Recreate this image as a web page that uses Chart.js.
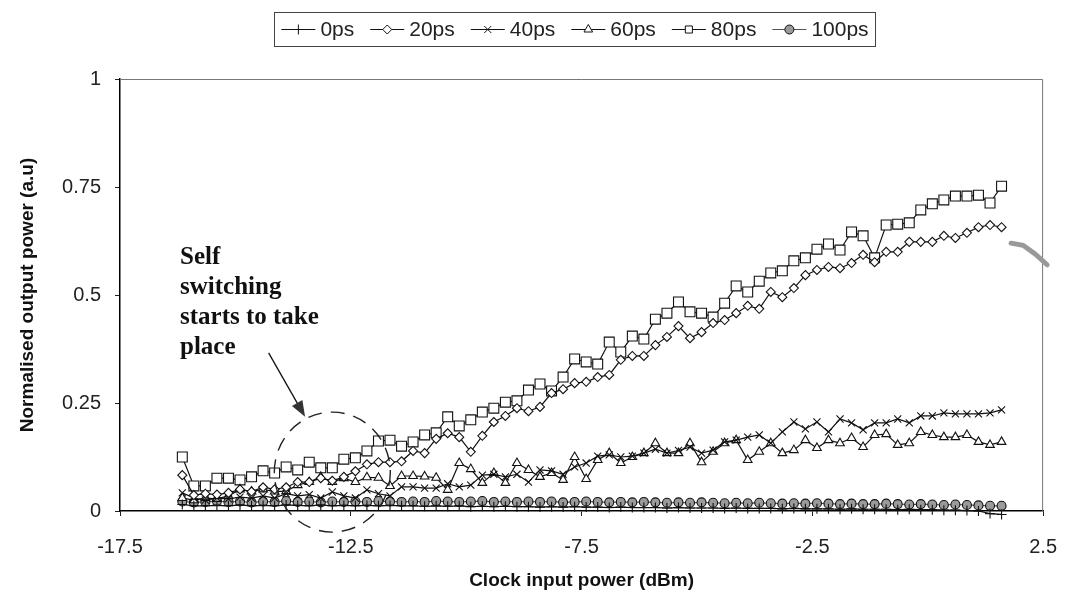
<!DOCTYPE html>
<html>
<head>
<meta charset="utf-8">
<script src="https://cdn.jsdelivr.net/npm/chart.js"></script>
<style>
  html, body { margin: 0; padding: 0; background: #fff; }
</style>
</head>
<body>
<canvas id="chart" width="1076" height="610"></canvas>
<script>
// clock input power (dBm), one entry per measured point
const clockPower = [
  -16.15, -15.9, -15.65, -15.4, -15.15, -14.9, -14.65, -14.4, -14.15, -13.9,
  -13.65, -13.4, -13.15, -12.9, -12.65, -12.4, -12.15, -11.9, -11.65, -11.4,
  -11.15, -10.9, -10.65, -10.4, -10.15, -9.9, -9.65, -9.4, -9.15, -8.9,
  -8.65, -8.4, -8.15, -7.9, -7.65, -7.4, -7.15, -6.9, -6.65, -6.4,
  -6.15, -5.9, -5.65, -5.4, -5.15, -4.9, -4.65, -4.4, -4.15, -3.9,
  -3.65, -3.4, -3.15, -2.9, -2.65, -2.4, -2.15, -1.9, -1.65, -1.4,
  -1.15, -0.9, -0.65, -0.4, -0.15, 0.1, 0.35, 0.6, 0.85, 1.1,
  1.35, 1.6
];

// normalised output power per delay
const out0ps = [
  0.015, 0.012, 0.012, 0.013, 0.012, 0.014, 0.012, 0.013, 0.012, 0.014,
  0.013, 0.012, 0.014, 0.012, 0.013, 0.012, 0.013, 0.012, 0.013, 0.012,
  0.012, 0.011, 0.012, 0.011, 0.012, 0.010, 0.011, 0.010, 0.011, 0.010,
  0.010, 0.009, 0.010, 0.009, 0.010, 0.009, 0.009, 0.008, 0.009, 0.008,
  0.008, 0.008, 0.007, 0.008, 0.007, 0.007, 0.007, 0.006, 0.007, 0.006,
  0.006, 0.006, 0.005, 0.006, 0.005, 0.005, 0.005, 0.004, 0.005, 0.004,
  0.004, 0.004, 0.003, 0.004, 0.003, 0.003, 0.002, 0.002, 0.001, 0.000,
  -0.006, -0.008
];
const out20ps = [
  0.083, 0.037, 0.040, 0.038, 0.042, 0.050, 0.045, 0.055, 0.050, 0.055,
  0.067, 0.067, 0.076, 0.070, 0.079, 0.092, 0.108, 0.113, 0.113, 0.115,
  0.139, 0.134, 0.167, 0.180, 0.171, 0.137, 0.174, 0.206, 0.220, 0.238,
  0.231, 0.241, 0.273, 0.282, 0.296, 0.299, 0.310, 0.315, 0.350, 0.359,
  0.359, 0.384, 0.403, 0.428, 0.400, 0.414, 0.435, 0.442, 0.458, 0.475,
  0.468, 0.507, 0.495, 0.516, 0.546, 0.558, 0.565, 0.562, 0.574, 0.593,
  0.576, 0.600, 0.600, 0.623, 0.623, 0.623, 0.637, 0.632, 0.644, 0.657,
  0.662, 0.657
];
const out40ps = [
  0.042, 0.030, 0.025, 0.030, 0.028, 0.032, 0.030, 0.035, 0.030, 0.040,
  0.035, 0.038, 0.030, 0.044, 0.035, 0.030, 0.049, 0.040, 0.035, 0.056,
  0.056, 0.053, 0.053, 0.063, 0.056, 0.060, 0.083, 0.085, 0.079, 0.085,
  0.067, 0.095, 0.093, 0.085, 0.102, 0.111, 0.127, 0.130, 0.125, 0.127,
  0.134, 0.143, 0.134, 0.140, 0.148, 0.134, 0.141, 0.160, 0.164, 0.171,
  0.176, 0.157, 0.183, 0.206, 0.190, 0.206, 0.183, 0.213, 0.204, 0.188,
  0.204, 0.204, 0.213, 0.204, 0.220, 0.220, 0.227, 0.225, 0.225, 0.225,
  0.227, 0.234
];
const out60ps = [
  0.030, 0.025, 0.030, 0.028, 0.035, 0.050, 0.045, 0.050, 0.045, 0.046,
  0.060, 0.067, 0.079, 0.067, 0.076, 0.067, 0.078, 0.077, 0.058, 0.081,
  0.081, 0.080, 0.077, 0.049, 0.111, 0.097, 0.065, 0.088, 0.065, 0.111,
  0.095, 0.079, 0.088, 0.072, 0.125, 0.074, 0.118, 0.134, 0.111, 0.125,
  0.134, 0.157, 0.134, 0.134, 0.157, 0.113, 0.137, 0.157, 0.164, 0.118,
  0.137, 0.157, 0.134, 0.141, 0.164, 0.146, 0.164, 0.157, 0.169, 0.148,
  0.176, 0.178, 0.153, 0.157, 0.183, 0.176, 0.171, 0.171, 0.176, 0.160,
  0.153, 0.160
];
const out80ps = [
  0.125, 0.058, 0.058, 0.076, 0.076, 0.072, 0.079, 0.093, 0.088, 0.102,
  0.095, 0.113, 0.100, 0.100, 0.120, 0.123, 0.139, 0.162, 0.164, 0.150,
  0.160, 0.176, 0.181, 0.218, 0.197, 0.211, 0.229, 0.238, 0.252, 0.255,
  0.280, 0.294, 0.278, 0.310, 0.352, 0.345, 0.340, 0.391, 0.368, 0.405,
  0.398, 0.444, 0.458, 0.484, 0.461, 0.458, 0.449, 0.481, 0.521, 0.507,
  0.532, 0.551, 0.556, 0.579, 0.586, 0.606, 0.618, 0.604, 0.646, 0.637,
  0.586, 0.662, 0.664, 0.667, 0.697, 0.711, 0.720, 0.729, 0.729, 0.731,
  0.713, 0.752
];
const out100ps = [
  0.022, 0.020, 0.021, 0.023, 0.021, 0.022, 0.020, 0.022, 0.021, 0.023,
  0.021, 0.022, 0.020, 0.022, 0.021, 0.022, 0.021, 0.023, 0.022, 0.021,
  0.022, 0.021, 0.023, 0.022, 0.021, 0.022, 0.023, 0.021, 0.022, 0.021,
  0.022, 0.021, 0.022, 0.020, 0.021, 0.022, 0.021, 0.020, 0.021, 0.020,
  0.021, 0.020, 0.019, 0.020, 0.019, 0.020, 0.019, 0.018, 0.019, 0.018,
  0.019, 0.018, 0.017, 0.018, 0.017, 0.018, 0.017, 0.016, 0.017, 0.016,
  0.016, 0.017, 0.016, 0.015, 0.016, 0.015, 0.014, 0.015, 0.014, 0.013,
  0.012, 0.012
];

const seriesNames = ["0ps", "20ps", "40ps", "60ps", "80ps", "100ps"];
const xTicks = [-17.5, -12.5, -7.5, -2.5, 2.5];
const yTicks = [0, 0.25, 0.5, 0.75, 1];
const noteLines = ["Self", "switching", "starts to take", "place"];

const sans = "'Liberation Sans', Arial, sans-serif";
const serif = "'Liberation Serif', 'Times New Roman', serif";

const toPoints = (ys) => ys.map((y, i) => ({ x: clockPower[i], y: y }));

const makeSet = (label, ys, style, radius, fill, line) => ({
    label: label,
    data: toPoints(ys),
    borderColor: line || "#111",
    borderWidth: 1.2,
    pointStyle: style,
    pointRadius: radius,
    pointHoverRadius: radius,
    pointBorderColor: "#111",
    pointBorderWidth: 1.1,
    pointBackgroundColor: fill,
    tension: 0,
    clip: 10
});

const datasets = [
    makeSet(seriesNames[0], out0ps, "cross", 5, "#111"),
    makeSet(seriesNames[1], out20ps, "rectRot", 4.5, "#fff"),
    makeSet(seriesNames[2], out40ps, "crossRot", 5, "#111"),
    makeSet(seriesNames[3], out60ps, "triangle", 5, "#fff"),
    makeSet(seriesNames[4], out80ps, "rect", 7, "#fff"),
    makeSet(seriesNames[5], out100ps, "circle", 4.5, "#9a9a9a", "#555")
];

// boxed legend with line + marker like the original
const boxLegend = {
    id: "boxLegend",
    afterDraw(chart) {
        const ctx = chart.ctx;
        const font = "21px " + sans;
        ctx.save();
        ctx.font = font;
        const seg = 34, gapText = 5, gapItem = 16, pad = 7;
        let total = pad * 2;
        chart.data.datasets.forEach((ds, i) => {
            total += seg + gapText + ctx.measureText(ds.label).width;
            if (i < chart.data.datasets.length - 1) total += gapItem;
        });
        const cx = 575, top = 12, h = 34;
        let x = cx - total / 2;
        ctx.strokeStyle = "#444";
        ctx.lineWidth = 1;
        ctx.strokeRect(Math.round(x) + 0.5, top + 0.5, Math.round(total), h);
        x += pad;
        const midY = top + h / 2 + 0.5;
        chart.data.datasets.forEach((ds) => {
            ctx.strokeStyle = ds.borderColor;
            ctx.lineWidth = 1;
            ctx.beginPath();
            ctx.moveTo(x, midY);
            ctx.lineTo(x + seg, midY);
            ctx.stroke();
            ctx.fillStyle = ds.pointBackgroundColor;
            ctx.strokeStyle = ds.pointBorderColor;
            Chart.helpers.drawPoint(ctx, {
                pointStyle: ds.pointStyle,
                radius: Math.min(ds.pointRadius, 5),
                rotation: 0,
                borderWidth: 1
            }, x + seg / 2, midY);
            x += seg + gapText;
            ctx.fillStyle = "#222";
            ctx.textBaseline = "middle";
            ctx.textAlign = "left";
            ctx.font = font;
            ctx.fillText(ds.label, x, midY + 1);
            x += ctx.measureText(ds.label).width + gapItem;
        });
        ctx.restore();
    }
};

// frame on top/right of plot, plus the hand-drawn note
const frameAndNote = {
    id: "frameAndNote",
    afterDatasetsDraw(chart) {
        const ctx = chart.ctx;
        const a = chart.chartArea;
        const xs = chart.scales.x, ys = chart.scales.y;
        ctx.save();
        ctx.strokeStyle = "#777";
        ctx.lineWidth = 1;
        ctx.beginPath();
        ctx.moveTo(a.left, a.top + 0.5);
        ctx.lineTo(a.right - 0.5, a.top + 0.5);
        ctx.lineTo(a.right - 0.5, a.bottom);
        ctx.stroke();

        // text
        ctx.fillStyle = "#111";
        ctx.font = "bold 25px " + serif;
        ctx.textAlign = "left";
        ctx.textBaseline = "alphabetic";
        const tx = xs.getPixelForValue(-16.2);
        const ty = ys.getPixelForValue(0.572);
        noteLines.forEach((t, i) => ctx.fillText(t, tx, ty + i * 30));

        // arrow
        const x1 = xs.getPixelForValue(-14.28), y1 = ys.getPixelForValue(0.366);
        const x2 = xs.getPixelForValue(-13.49), y2 = ys.getPixelForValue(0.218);
        const ang = Math.atan2(y2 - y1, x2 - x1);
        ctx.strokeStyle = "#111";
        ctx.lineWidth = 1.3;
        ctx.beginPath();
        ctx.moveTo(x1, y1);
        ctx.lineTo(x2 - 10 * Math.cos(ang), y2 - 10 * Math.sin(ang));
        ctx.stroke();
        ctx.beginPath();
        ctx.moveTo(x2, y2);
        ctx.lineTo(x2 - 16 * Math.cos(ang) + 6 * Math.sin(ang), y2 - 16 * Math.sin(ang) - 6 * Math.cos(ang));
        ctx.lineTo(x2 - 16 * Math.cos(ang) - 6 * Math.sin(ang), y2 - 16 * Math.sin(ang) + 6 * Math.cos(ang));
        ctx.closePath();
        ctx.fillStyle = "#333";
        ctx.fill();

        // dashed circle
        const cx = xs.getPixelForValue(-12.9), cy = ys.getPixelForValue(0.09);
        ctx.setLineDash([14, 9]);
        ctx.lineWidth = 1.4;
        ctx.strokeStyle = "#222";
        ctx.beginPath();
        ctx.ellipse(cx, cy, 58, 60, 0, 0, Math.PI * 2);
        ctx.stroke();
        ctx.setLineDash([]);

        // grey scan smudge on the right edge
        ctx.strokeStyle = "#999";
        ctx.lineWidth = 5;
        ctx.lineCap = "round";
        ctx.beginPath();
        ctx.moveTo(a.right - 32, ys.getPixelForValue(0.62));
        ctx.lineTo(a.right - 20, ys.getPixelForValue(0.615));
        ctx.lineTo(a.right - 8, ys.getPixelForValue(0.595));
        ctx.lineTo(a.right + 4, ys.getPixelForValue(0.57));
        ctx.stroke();
        ctx.restore();
    }
};

const config = {
    type: "line",
    data: { datasets: datasets },
    options: {
        responsive: false,
        animation: false,
        layout: { padding: { top: 79, right: 23, left: 0, bottom: 0 } },
        plugins: {
            legend: { display: false },
            tooltip: { enabled: false }
        },
        scales: {
            x: {
                type: "linear",
                min: -17.5,
                max: 2.5,
                afterBuildTicks: (s) => { s.ticks = xTicks.map(v => ({ value: v })); },
                afterFit: (s) => { s.height = 99; },
                ticks: {
                    autoSkip: false,
                    maxRotation: 0,
                    padding: 19,
                    color: "#222",
                    font: { family: sans, size: 20 },
                    callback: (v) => String(v)
                },
                grid: { drawOnChartArea: false, drawTicks: true, tickLength: 5, color: "#222" },
                border: { display: true, color: "#000", width: 1.5 },
                title: {
                    display: true,
                    text: "Clock input power (dBm)",
                    color: "#111",
                    font: { family: sans, size: 19, weight: "bold" },
                    padding: { top: 0, bottom: 18 }
                }
            },
            y: {
                min: 0,
                max: 1,
                afterBuildTicks: (s) => { s.ticks = yTicks.map(v => ({ value: v })); },
                afterFit: (s) => { s.width = 120; },
                ticks: {
                    padding: 14,
                    color: "#222",
                    font: { family: sans, size: 20 },
                    callback: (v) => String(v)
                },
                grid: { drawOnChartArea: false, drawTicks: true, tickLength: 5, color: "#222" },
                border: { display: true, color: "#000", width: 1.5 },
                title: {
                    display: true,
                    text: "Normalised output power (a.u)",
                    color: "#111",
                    font: { family: sans, size: 19, weight: "bold" },
                    padding: { top: 16, bottom: 0 }
                }
            }
        }
    },
    plugins: [frameAndNote, boxLegend]
};

const chart = new Chart(document.getElementById("chart"), config);
</script>
</body>
</html>
